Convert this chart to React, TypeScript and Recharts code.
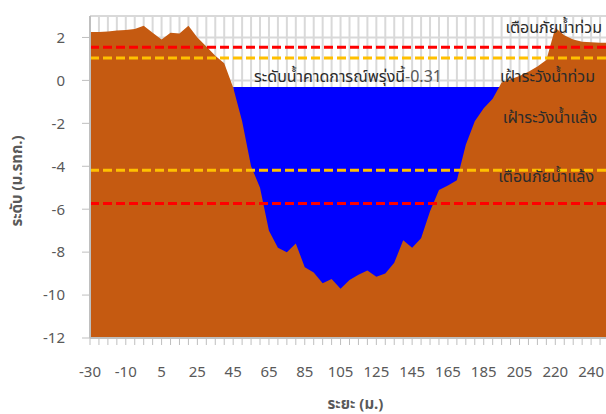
import React from 'react';
import { AreaChart, Area, XAxis, YAxis, CartesianGrid, ReferenceLine, ReferenceDot } from 'recharts';

// distance along the cross-section (m)
const distances = ['-30','-25','-20','-15','-10','-5','-2','0','5','10','15','20','25','30','35','40','45','50','55','60','65','70','75','80','85','90','95','100','105','110','115','120','125','130','135','140','145','150','155','160','165','170','175','180','185','190','195','200','205','208','212','216','220','225','230','235','240','245','250'];

// ground elevation (m. MSL)
const groundLevel = [2.25,2.25,2.28,2.32,2.35,2.4,2.55,2.22,1.9,2.22,2.18,2.55,2.0,1.58,1.15,0.8,-0.33,-1.9,-4.0,-5.0,-7.0,-7.8,-8.0,-7.6,-8.7,-8.95,-9.45,-9.25,-9.7,-9.3,-9.05,-8.85,-9.15,-9.0,-8.5,-7.45,-7.8,-7.35,-6.1,-5.1,-4.9,-4.65,-3.0,-1.9,-1.3,-0.85,-0.1,0.05,0.2,0.4,0.65,0.95,2.45,2.1,1.9,1.8,1.78,1.75,1.75];

// forecast water level (only where the channel is wet)
const forecastLevel = -0.31;
const waterStart = 16;
const waterEnd = 46;
const waterLevel = distances.map((_, i) => (i >= waterStart && i <= waterEnd ? forecastLevel : null));

// thresholds
const floodWarning = 1.55;
const floodWatch = 1.04;
const droughtWatch = -4.19;
const droughtWarning = -5.73;

const yTicks = [-12, -10, -8, -6, -4, -2, 0, 2];
const yDomain = [-12, 3];

const FONT = "'Noto Sans', 'Noto Sans Thai', Tahoma, sans-serif";
const TEXT_DARK = '#2b2b2b';
const TEXT_GRAY = '#595959';

const data = distances.map((d, i) => ({ d, ground: groundLevel[i], water: waterLevel[i] }));

const rightLabel = (text: string, dx: number, dy: number) => (props: any) => {
  const vb = props.viewBox || {};
  return (
    <text x={vb.x + vb.width + dx} y={vb.y + dy} textAnchor="end" fontSize={16} fill={TEXT_DARK} fontFamily={FONT}>
      {text}
    </text>
  );
};

const forecastLabel = (props: any) => {
  const vb = props.viewBox || {};
  return (
    <text x={vb.x + 3} y={vb.y - 5} fontSize={16} fontFamily={FONT} fill={TEXT_DARK}>
      ระดับน้ำคาดการณ์พรุ่งนี้
      <tspan fill={TEXT_GRAY}>{forecastLevel.toFixed(2)}</tspan>
    </text>
  );
};

const yTitle = (props: any) => {
  const vb = props.viewBox || {};
  const cx = vb.x + 16;
  const cy = vb.y + vb.height / 2 + 4;
  return (
    <text x={cx} y={cy} transform={`rotate(-90, ${cx}, ${cy})`} textAnchor="middle" dominantBaseline="central" fontSize={15} fontWeight="bold" fill={TEXT_GRAY} fontFamily={FONT}>
      ระดับ (ม.รทก.)
    </text>
  );
};

const xTitle = (props: any) => {
  const vb = props.viewBox || {};
  const cx = vb.x + vb.width / 2 + 6;
  const cy = vb.y + 65;
  return (
    <text x={cx} y={cy} textAnchor="middle" dominantBaseline="central" fontSize={15} fontWeight="bold" fill={TEXT_GRAY} fontFamily={FONT}>
      ระยะ (ม.)
    </text>
  );
};

export default function App() {
  return (
    <div style={{ position: 'absolute', left: 0, top: 0, width: 606, height: 414, overflow: 'hidden', background: '#fff' }}>
      <AreaChart width={610} height={414} data={data} margin={{ top: 16, right: 1, left: 0, bottom: 0 }}>
        <CartesianGrid stroke="#d9d9d9" strokeWidth={2} />
        <XAxis
          dataKey="d"
          interval={0}
          tickFormatter={(v: any, i: number) => (i % 4 === 0 ? v : '')}
          height={76}
          tickSize={7}
          tickMargin={21}
          axisLine={{ stroke: '#bfbfbf', strokeWidth: 2 }}
          tickLine={{ stroke: '#bfbfbf' }}
          tick={{ fill: TEXT_GRAY, fontSize: 15, fontFamily: FONT }}
          label={{ content: xTitle }}
        />
        <YAxis
          domain={yDomain}
          ticks={yTicks}
          type="number"
          allowDataOverflow
          width={90}
          tickSize={8}
          tickMargin={17}
          axisLine={{ stroke: '#bfbfbf', strokeWidth: 2 }}
          tickLine={{ stroke: '#bfbfbf' }}
          tick={{ fill: TEXT_GRAY, fontSize: 15, fontFamily: FONT }}
          label={{ content: yTitle }}
        />
        <Area dataKey="water" type="linear" fill="#0000ff" fillOpacity={1} stroke="none" baseValue={-12} connectNulls={false} isAnimationActive={false} />
        <Area dataKey="ground" type="linear" fill="#c55a11" fillOpacity={1} stroke="none" baseValue={-12} isAnimationActive={false} />
        <ReferenceLine y={floodWarning} stroke="#ff0000" strokeWidth={3} strokeDasharray="9 4" label={rightLabel('เตือนภัยน้ำท่วม', -7, -14)} />
        <ReferenceLine y={floodWatch} stroke="#ffc000" strokeWidth={3} strokeDasharray="9 4" label={rightLabel('เฝ้าระวังน้ำท่วม', -14, 24)} />
        <ReferenceLine y={droughtWatch} stroke="#ffc000" strokeWidth={3} strokeDasharray="9 4" label={rightLabel('เฝ้าระวังน้ำแล้ง', -12, -47)} />
        <ReferenceLine y={droughtWarning} stroke="#ff0000" strokeWidth={3} strokeDasharray="9 4" label={rightLabel('เตือนภัยน้ำแล้ง', -15, -21.6)} />
        <ReferenceDot x={distances[18]} y={forecastLevel} r={0} fill="none" stroke="none" label={forecastLabel} />
      </AreaChart>
    </div>
  );
}
